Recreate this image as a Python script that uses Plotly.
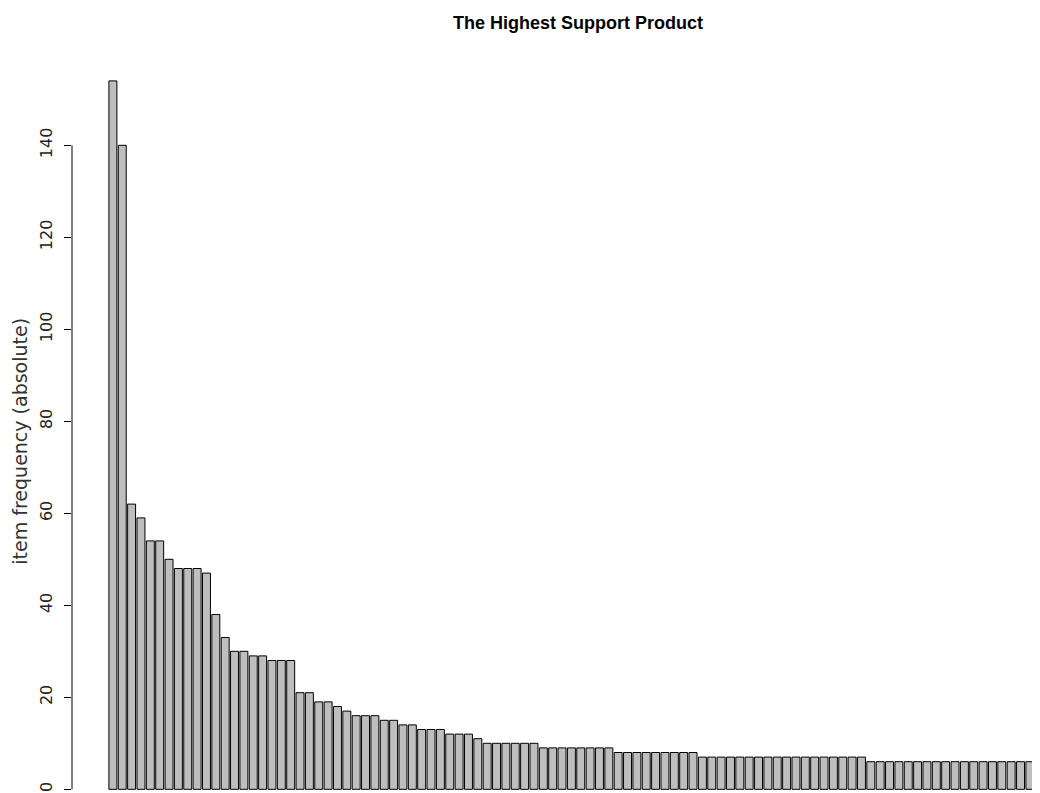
import plotly.graph_objects as go

# ---- data ----
ranks = list(range(1, 101))
frequencies = (
    [154, 140, 62, 59, 54, 54, 50, 48, 48, 48,
     47, 38, 33, 30, 30, 29, 29, 28, 28, 28,
     21, 21, 19, 19, 18, 17, 16, 16, 16, 15,
     15, 14, 14, 13, 13, 13, 12, 12, 12, 11]
    + [10] * 6 + [9] * 8 + [8] * 9 + [7] * 18 + [6] * 19
)
y_ticks = [0, 20, 40, 60, 80, 100, 120, 140]
title_text = "The Highest Support Product"
y_title = "item frequency (absolute)"

# the page puts the figure 8px in from the top-left corner
OFF = 8
W, H = 1040 - OFF, 793 - OFF
ML, MR, MT, MB = 72 - OFF, 0, 60 - OFF, 0
plot_w = W - ML - MR
plot_h = H - MT - MB
pitch = 9.357          # px per bar
first_center_px = 112.9 - OFF
px_per_unit = 4.6
zero_px = 789.3 - OFF

xmin = (ranks[0] - 1) - (first_center_px - ML) / pitch
xmax = xmin + plot_w / pitch
ytop = (zero_px - MT) / px_per_unit
ybot = ytop - plot_h / px_per_unit

fig = go.Figure()
fig.add_trace(go.Bar(
    x=[r - 1 for r in ranks],
    y=frequencies,
    marker=dict(color="#BEBEBE", line=dict(color="#000000", width=1)),
    hoverinfo="y",
))

fig.update_layout(
    width=W, height=H,
    margin=dict(l=ML, r=MR, t=MT, b=MB, autoexpand=False),
    paper_bgcolor="white", plot_bgcolor="white",
    bargap=0.15,
    showlegend=False,
    title=dict(
        text="<b>" + title_text + "</b>",
        font=dict(family="Liberation Sans, Arial, sans-serif", size=18, color="black"),
        xref="container", yref="container",
        x=(578 - OFF) / W, xanchor="center",
        y=1 - (23 - OFF) / H, yanchor="middle",
    ),
    xaxis=dict(range=[xmin, xmax], showticklabels=False, ticks="",
               showgrid=False, zeroline=False, showline=False),
    yaxis=dict(range=[ybot, ytop], tickvals=y_ticks,
               ticktext=[str(v) for v in y_ticks],
               ticks="outside", ticklen=7, tickwidth=1, tickcolor="black",
               tickangle=-90, ticklabelstandoff=6,
               tickfont=dict(family="DejaVu Sans", size=16, color="#222222"),
               showgrid=False, zeroline=False, showline=False,
               automargin=False),
    shapes=[dict(type="line", xref="paper", yref="y",
                 x0=0, x1=0, y0=y_ticks[0], y1=y_ticks[-1],
                 line=dict(color="black", width=1))],
    annotations=[dict(text=y_title, xref="paper", yref="paper",
                      x=-(ML - (20 - OFF)) / plot_w,
                      y=(zero_px - (438 - OFF)) / plot_h,
                      xanchor="center", yanchor="middle", textangle=-90,
                      showarrow=False,
                      font=dict(family="DejaVu Sans", size=19, color="#333333"))],
)

fig.write_html("out.html")
